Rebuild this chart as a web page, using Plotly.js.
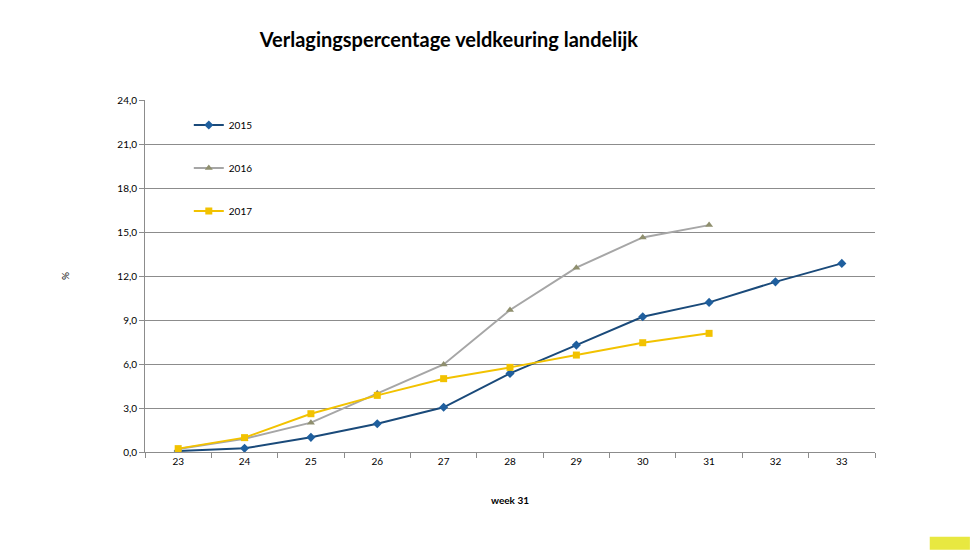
<!DOCTYPE html>
<html>
<head>
<meta charset="utf-8">
<script src="https://cdn.plot.ly/plotly-3.0.1.min.js"></script>
<style>
  html, body { margin: 0; padding: 0; background: #fff; }
  #chart { width: 978px; height: 550px; }
</style>
</head>
<body>
<div id="chart"></div>
<script>
const weeks = ['23', '24', '25', '26', '27', '28', '29', '30', '31', '32', '33'];
const weeks2016 = ['23', '24', '25', '26', '27', '28', '29', '30', '31'];
const y2015 = [0.07, 0.25, 1.0, 1.93, 3.05, 5.36, 7.29, 9.22, 10.2, 11.6, 12.86];
const y2016 = [0.2, 0.9, 2.0, 4.0, 5.97, 9.68, 12.57, 14.63, 15.47];
const y2017 = [0.23, 0.98, 2.61, 3.86, 5.0, 5.77, 6.61, 7.45, 8.09];

const font = 'Lato, "Open Sans", "Liberation Sans", sans-serif';

const traces = [
  {
    x: weeks, y: y2015, name: '2015', legendgroup: 'a',
    mode: 'lines+markers',
    line: { color: '#1a4a7a', width: 2 },
    marker: { symbol: 'diamond', size: 7, color: '#1f5f9e' }
  },
  {
    x: weeks2016, y: y2016, name: '2016', legendgroup: 'b',
    mode: 'lines+markers',
    line: { color: '#a6a6a6', width: 2 },
    marker: { symbol: 'triangle-up', size: 7, color: '#8f8f6e' }
  },
  {
    x: weeks2016, y: y2017, name: '2017', legendgroup: 'c',
    mode: 'lines+markers',
    line: { color: '#f2c200', width: 2 },
    marker: { symbol: 'square', size: 7, color: '#f2c200' }
  }
];

const layout = {
  width: 978,
  height: 550,
  margin: { l: 145, r: 103, t: 100, b: 98 },
  paper_bgcolor: '#ffffff',
  plot_bgcolor: '#ffffff',
  separators: ',.',
  font: { family: font, size: 10, color: '#000' },
  title: {
    text: '<b>Verlagingspercentage veldkeuring landelijk</b>',
    font: { family: font, size: 20, color: '#000' },
    x: 0.459, xanchor: 'center',
    y: 0.927, yanchor: 'middle'
  },
  showlegend: true,
  legend: {
    x: 0.06, xanchor: 'left',
    y: 0.97, yanchor: 'top',
    bgcolor: 'rgba(0,0,0,0)',
    tracegroupgap: 24,
    itemwidth: 30,
    font: { family: font, size: 10 }
  },
  xaxis: {
    type: 'category',
    range: [-0.5, 10.5],
    showline: true,
    linecolor: '#8c8c8c',
    ticks: 'outside',
    tickson: 'boundaries',
    ticklen: 5,
    tickcolor: '#8c8c8c',
    showgrid: false,
    zeroline: false,
    tickfont: { family: font, size: 10 },
    title: {
      text: '<b>week 31</b>',
      font: { family: font, size: 10 },
      standoff: 30
    }
  },
  yaxis: {
    range: [0, 24],
    dtick: 3,
    tickformat: '.1f',
    showline: true,
    linecolor: '#8c8c8c',
    ticks: 'outside',
    ticklen: 5,
    tickcolor: '#8c8c8c',
    showgrid: true,
    gridcolor: '#8c8c8c',
    gridwidth: 1,
    zeroline: false,
    tickfont: { family: font, size: 10 },
    title: {
      text: '%',
      font: { family: font, size: 10 },
      standoff: 45
    }
  },
  shapes: [
    {
      type: 'rect', xref: 'paper', yref: 'paper',
      x0: 1.075, x1: 1.13, y0: -0.278, y1: -0.241,
      fillcolor: '#e8e840', line: { width: 0 }
    }
  ]
};

Plotly.newPlot('chart', traces, layout, { displayModeBar: false, staticPlot: true });
</script>
</body>
</html>
